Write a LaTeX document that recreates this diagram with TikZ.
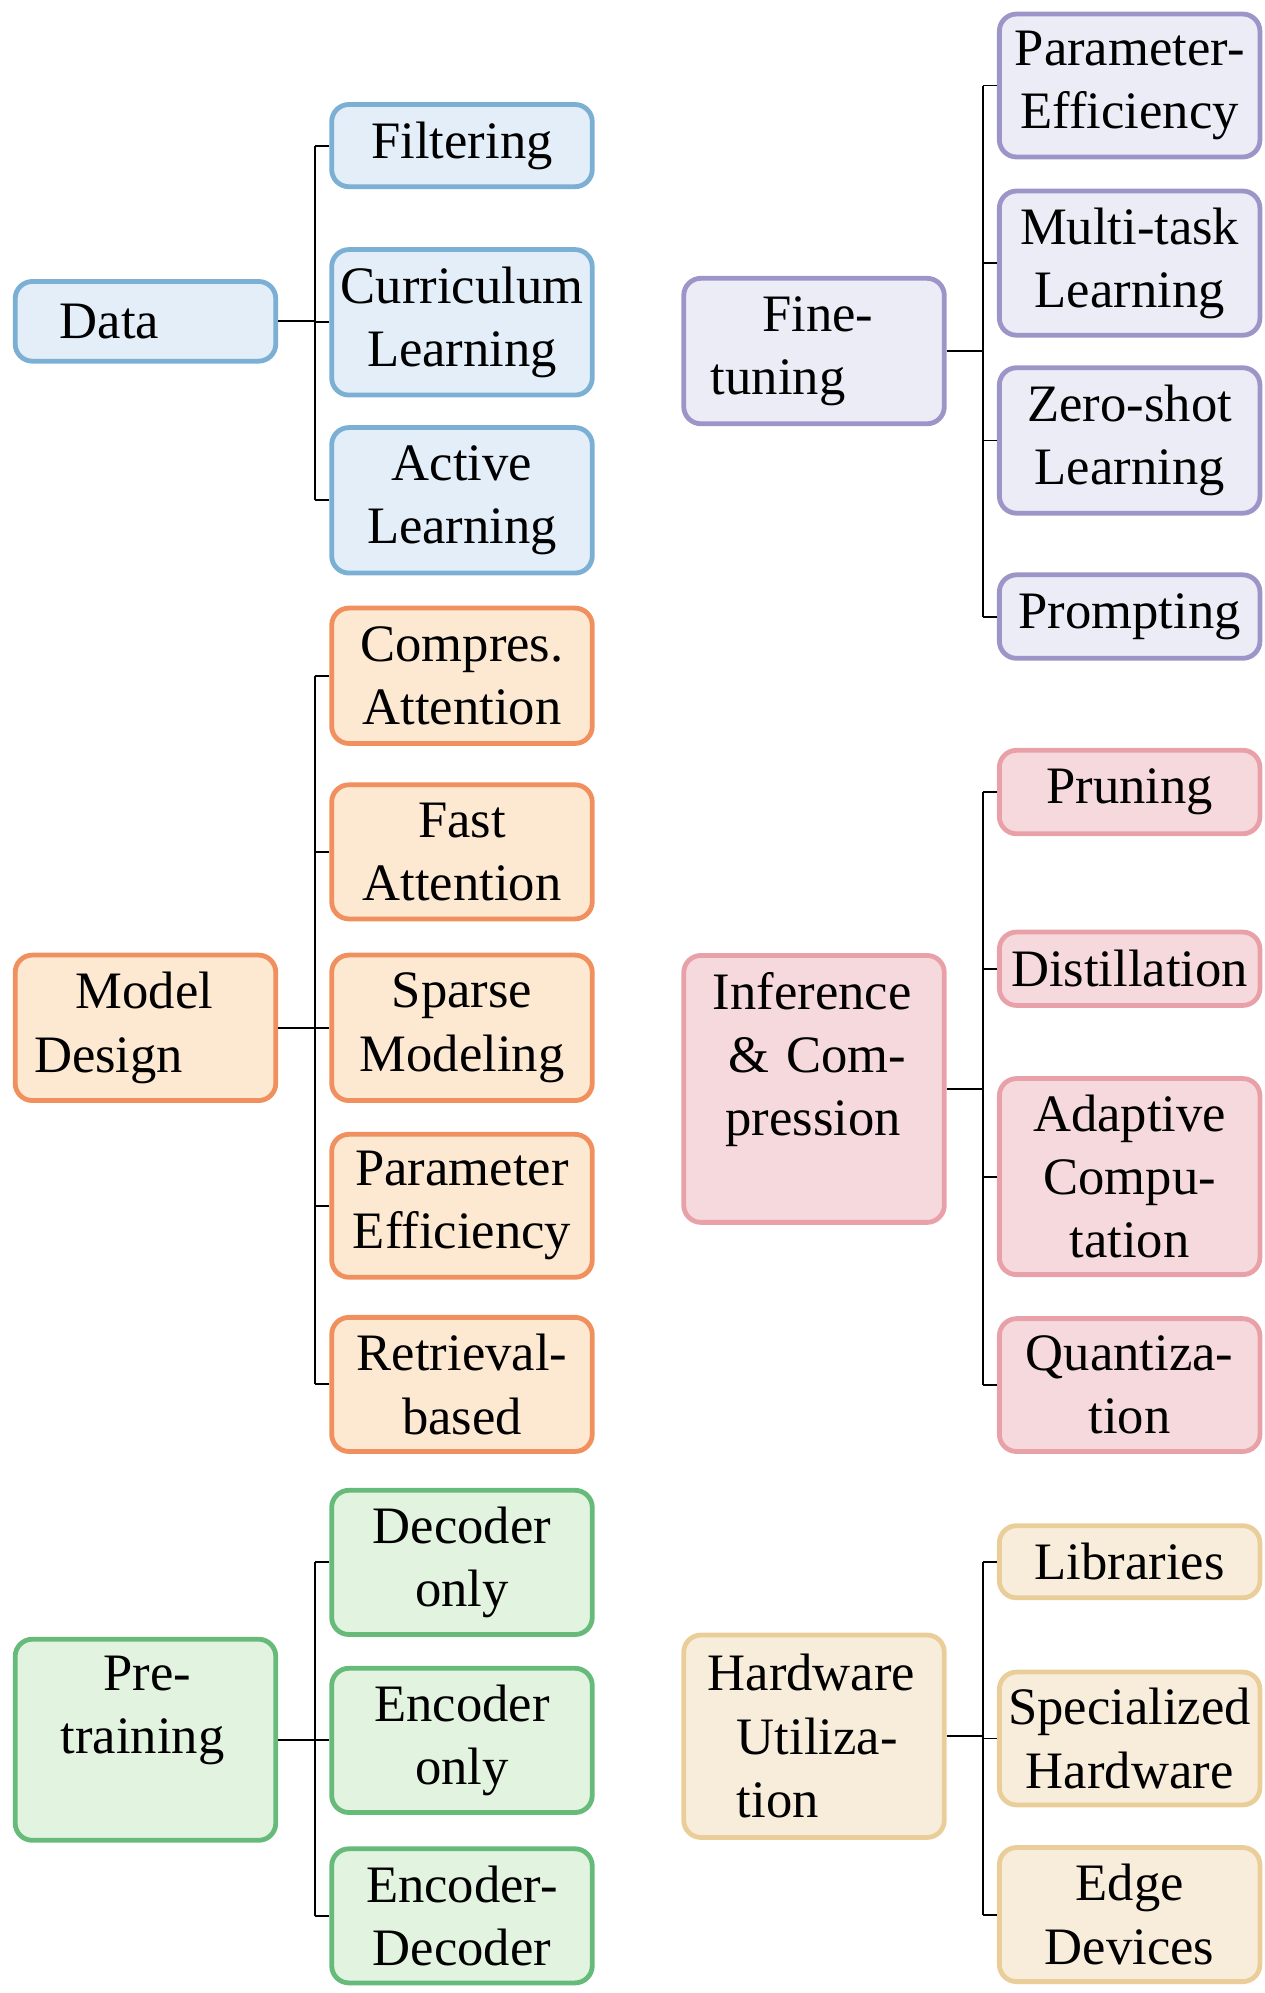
\documentclass[tikz,border=0pt]{standalone}
\usepackage{fontspec}
\setmainfont{Liberation Serif}
\definecolor{bluefill}{HTML}{E3EEF8}
\definecolor{bluedraw}{HTML}{7BAFD4}
\definecolor{purplefill}{HTML}{ECECF6}
\definecolor{purpledraw}{HTML}{9D94C8}
\definecolor{orangefill}{HTML}{FDE8D1}
\definecolor{orangedraw}{HTML}{F0905E}
\definecolor{pinkfill}{HTML}{F6D9DC}
\definecolor{pinkdraw}{HTML}{E9A1A9}
\definecolor{greenfill}{HTML}{E2F3DF}
\definecolor{greendraw}{HTML}{66BB7A}
\definecolor{tanfill}{HTML}{F8EDDB}
\definecolor{tandraw}{HTML}{EACE9A}
\newcommand{\emptyline}{\rule[-2.5pt]{0pt}{2.5pt}}
\begin{document}
\begin{tikzpicture}[x=0.5pt,y=-0.5pt,
  box/.style={draw, line width=1.9pt, rounded corners=6.8pt, inner sep=0pt,
    minimum width=103pt, font=\fontsize{20.8}{25}\selectfont, align=center, text=black},
  ptext/.style={text width=103pt, align=left},
  bluebox/.style={box, draw=bluedraw, fill=bluefill},
  purplebox/.style={box, draw=purpledraw, fill=purplefill},
  orangebox/.style={box, draw=orangedraw, fill=orangefill},
  pinkbox/.style={box, draw=pinkdraw, fill=pinkfill},
  greenbox/.style={box, draw=greendraw, fill=greenfill},
  tanbox/.style={box, draw=tandraw, fill=tanfill},
  conn/.style={line width=0.75pt, black}]
\useasboundingbox (0,0) rectangle (1000,1575.5);

% ---------- left column ----------
\node[bluebox, ptext, minimum height=31.5pt] (data) at (115,254) {\hspace*{17.7pt}Data};
\node[bluebox, minimum height=32.5pt] (filt) at (365.2,115.1) {Filtering};
\node[bluebox, minimum height=57.5pt] (curr) at (365.2,254.8) {Curriculum\\Learning};
\node[bluebox, minimum height=57.5pt] (actv) at (365.2,395.5) {Active\\Learning};

\node[orangebox, ptext, minimum height=57.5pt] (model) at (115,812.5) {\hspace*{24pt}Model\\\hspace*{7.5pt}Design};
\node[orangebox, minimum height=53.5pt] (comp) at (365.2,534.2) {Compres.\\Attention};
\node[orangebox, minimum height=53pt] (fast) at (365.2,673.4) {Fast\\Attention};
\node[orangebox, minimum height=57.5pt] (sparse) at (365.2,812.5) {Sparse\\Modeling};
\node[orangebox, minimum height=56.5pt] (peff) at (365.2,953.2) {Parameter\\Efficiency};
\node[orangebox, minimum height=53pt] (retr) at (365.2,1094.4) {Retrieval-\\based};

\node[greenbox, ptext, minimum height=79.5pt] (pre) at (115,1375.3) {\hspace*{35pt}Pre-\\\hspace*{18pt}training\\\emptyline};
\node[greenbox, minimum height=57pt] (dec) at (365.2,1235.1) {Decoder\\only};
\node[greenbox, minimum height=57pt] (enc) at (365.2,1375.8) {Encoder\\only};
\node[greenbox, minimum height=53pt] (encdec) at (365.2,1514.5) {Encoder-\\Decoder};

% ---------- right column ----------
\node[purplebox, ptext, minimum height=57.5pt] (fine) at (643.5,277.5) {\hspace*{31pt}Fine-\\\hspace*{10.7pt}tuning};
\node[purplebox, minimum height=56.5pt] (pe2) at (893,67.6) {Parameter-\\Efficiency};
\node[purplebox, minimum height=57pt] (multi) at (893,208) {Multi-task\\Learning};
\node[purplebox, minimum height=57.5pt] (zero) at (893,348.2) {Zero-shot\\Learning};
\node[purplebox, minimum height=33pt] (prompt) at (893,487.4) {Prompting};

\node[pinkbox, ptext, minimum height=105.5pt] (infer) at (643.5,860.8) {\hspace*{11.5pt}Inference\\\hspace*{17.5pt}\& Com-\\\hspace*{16.5pt}pression\\\emptyline};
\node[pinkbox, minimum height=33pt] (prune) at (893,626.1) {Pruning};
\node[pinkbox, minimum height=29pt] (dist) at (893,765.8) {Distillation};
\node[pinkbox, minimum height=77.5pt] (adapt) at (893,930.1) {Adaptive\\Compu-\\tation};
\node[pinkbox, minimum height=52.5pt] (quant) at (893,1094.9) {Quantiza-\\tion};

\node[tanbox, ptext, minimum height=80pt] (hw) at (643.5,1372.5) {\hspace*{9.5pt}Hardware\\\hspace*{21pt}Utiliza-\\\hspace*{21pt}tion};
\node[tanbox, minimum height=28.5pt] (lib) at (893,1234.6) {Libraries};
\node[tanbox, minimum height=52.5pt] (spec) at (893,1374.3) {Specialized\\Hardware};
\node[tanbox, minimum height=53pt] (edge) at (893,1513.5) {Edge\\Devices};

% ---------- connectors ----------
\coordinate (tl) at (249,0);
\coordinate (tr) at (777.3,0);

\draw[conn] (data.east) -- (data.east -| tl);
\draw[conn] (filt.west -| tl) -- (actv.west -| tl);
\foreach \n in {filt,curr,actv} \draw[conn] (\n.west) -- (\n.west -| tl);

\draw[conn] (model.east) -- (model.east -| tl);
\draw[conn] (comp.west -| tl) -- (retr.west -| tl);
\foreach \n in {comp,fast,sparse,peff,retr} \draw[conn] (\n.west) -- (\n.west -| tl);

\draw[conn] (pre.east) -- (pre.east -| tl);
\draw[conn] (dec.west -| tl) -- (encdec.west -| tl);
\foreach \n in {dec,enc,encdec} \draw[conn] (\n.west) -- (\n.west -| tl);

\draw[conn] (fine.east) -- (fine.east -| tr);
\draw[conn] (pe2.west -| tr) -- (prompt.west -| tr);
\foreach \n in {pe2,multi,zero,prompt} \draw[conn] (\n.west) -- (\n.west -| tr);

\draw[conn] (infer.east) -- (infer.east -| tr);
\draw[conn] (prune.west -| tr) -- (quant.west -| tr);
\foreach \n in {prune,dist,adapt,quant} \draw[conn] (\n.west) -- (\n.west -| tr);

\draw[conn] (hw.east) -- (hw.east -| tr);
\draw[conn] (lib.west -| tr) -- (edge.west -| tr);
\foreach \n in {lib,spec,edge} \draw[conn] (\n.west) -- (\n.west -| tr);
\end{tikzpicture}
\end{document}
